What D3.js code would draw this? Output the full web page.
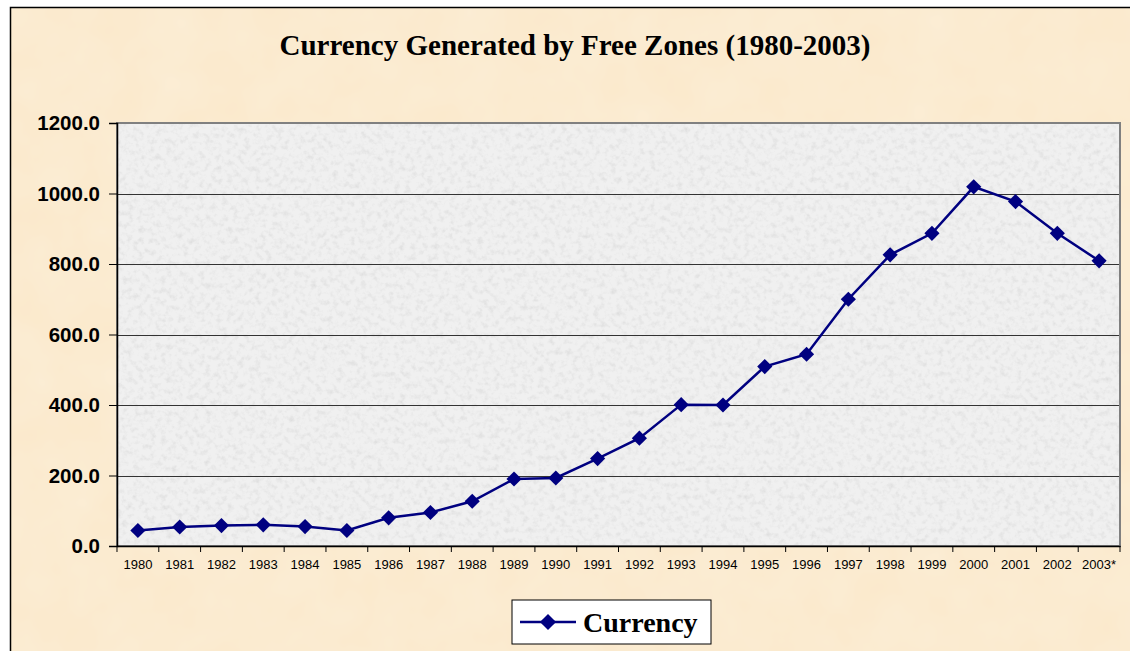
<!DOCTYPE html>
<html><head><meta charset="utf-8">
<script src="https://cdn.jsdelivr.net/npm/d3@7"></script>
<style>html,body{margin:0;padding:0;background:#fff;}svg{display:block;}</style>
</head><body>
<svg id="chart" width="1130" height="651"></svg>
<script>
const years = ["1980","1981","1982","1983","1984","1985","1986","1987","1988","1989","1990","1991","1992","1993","1994","1995","1996","1997","1998","1999","2000","2001","2002","2003*"];
const currency = [44,54,58,60,55,44,80,95,127,190,193,248,306,401,400,509,544,700,826,887,1019,977,887,809];
const yTicks = [0,200,400,600,800,1000,1200];
const titleText = "Currency Generated by Free Zones (1980-2003)";
const seriesName = "Currency";

const svg = d3.select("#chart");
const defs = svg.append("defs");
const f1 = defs.append("filter").attr("id","paper").attr("x",0).attr("y",0).attr("width","100%").attr("height","100%");
f1.append("feTurbulence").attr("type","fractalNoise").attr("baseFrequency",0.02).attr("numOctaves",3).attr("seed",4).attr("result","n");
f1.append("feColorMatrix").attr("in","n").attr("type","matrix")
  .attr("values","0 0 0 0 0.99  0 0 0 0 0.93  0 0 0 0 0.82  0.35 0 0 0 -0.05").attr("result","c");
f1.append("feComposite").attr("in","c").attr("in2","SourceGraphic").attr("operator","over");
const f2 = defs.append("filter").attr("id","granite").attr("x",0).attr("y",0).attr("width","100%").attr("height","100%");
f2.append("feTurbulence").attr("type","fractalNoise").attr("baseFrequency",0.18).attr("numOctaves",3).attr("seed",7).attr("result","n");
f2.append("feColorMatrix").attr("in","n").attr("type","matrix")
  .attr("values","0 0 0 0 0.74  0 0 0 0 0.74  0 0 0 0 0.74  -2.2 0 0 0 1.2").attr("result","c");
f2.append("feComposite").attr("in","c").attr("in2","SourceGraphic").attr("operator","over");

svg.append("rect").attr("x",0).attr("y",0).attr("width",1130).attr("height",651).attr("fill","#ffffff");
svg.append("rect").attr("x",10).attr("y",7).attr("width",1125).attr("height",650).attr("fill","#fbe9cc").attr("filter","url(#paper)");
svg.append("rect").attr("x",10.5).attr("y",7.5).attr("width",1130).attr("height",660).attr("fill","none").attr("stroke","#000").attr("stroke-width",1.5);

const m = {left:117, right:1120, top:123, bottom:546};
const x = d3.scaleBand().domain(years).range([m.left, m.right]);
const y = d3.scaleLinear().domain([0,1200]).range([m.bottom, m.top]);

svg.append("rect").attr("x",m.left).attr("y",m.top).attr("width",m.right-m.left).attr("height",m.bottom-m.top)
  .attr("fill","#f0f0f0").attr("filter","url(#granite)");

svg.append("g").selectAll("line").data(yTicks.filter(d=>d>0&&d<1200)).join("line")
  .attr("x1",m.left).attr("x2",m.right).attr("y1",d=>Math.round(y(d))+0.5).attr("y2",d=>Math.round(y(d))+0.5)
  .attr("stroke","#333").attr("stroke-width",1);

svg.append("rect").attr("x",m.left).attr("y",m.top).attr("width",m.right-m.left).attr("height",m.bottom-m.top)
  .attr("fill","none").attr("stroke","#808080").attr("stroke-width",2);

const yAxis = d3.axisLeft(y).tickValues(yTicks).tickFormat(d3.format(".1f")).tickSize(8).tickPadding(9);
const gy = svg.append("g").attr("transform",`translate(${m.left},0)`).call(yAxis);
gy.select(".domain").attr("stroke","#000").attr("stroke-width",1.5);
gy.selectAll(".tick line").attr("stroke","#000");
gy.selectAll("text").attr("font-family","Liberation Sans, Arial, sans-serif").attr("font-weight","bold").attr("font-size",20.5).attr("fill","#000");

const xAxis = d3.axisBottom(x).tickSizeInner(6).tickSizeOuter(0).tickPadding(8);
const gx = svg.append("g").attr("transform",`translate(0,${m.bottom})`).call(xAxis);
gx.select(".domain").attr("stroke","#000").attr("stroke-width",1.5);
gx.selectAll(".tick line").attr("stroke","#000").attr("transform",`translate(${-x.bandwidth()/2},0)`);
gx.append("line").attr("x1",m.right).attr("x2",m.right).attr("y1",0).attr("y2",6).attr("stroke","#000");
gx.selectAll("text").attr("font-family","Liberation Sans, Arial, sans-serif").attr("font-size",13).attr("fill","#000");

const cx = d => x(d) + x.bandwidth()/2;
const line = d3.line().x((d,i)=>cx(years[i])).y(d=>y(d));
svg.append("path").datum(currency).attr("d",line).attr("fill","none").attr("stroke","#000080").attr("stroke-width",2.5);
svg.append("g").selectAll("path").data(currency).join("path")
  .attr("transform",(d,i)=>`translate(${cx(years[i])},${y(d)}) rotate(45)`)
  .attr("d",d3.symbol().type(d3.symbolSquare).size(115))
  .attr("fill","#000080");

svg.append("text").attr("x",575).attr("y",55).attr("text-anchor","middle")
  .attr("font-family","Liberation Serif, Times New Roman, serif").attr("font-weight","bold").attr("font-size",29)
  .text(titleText);

const lg = svg.append("g");
lg.append("rect").attr("x",512).attr("y",600).attr("width",199).attr("height",44).attr("fill","#fff").attr("stroke","#000").attr("stroke-width",1);
lg.append("line").attr("x1",520).attr("x2",576).attr("y1",622).attr("y2",622).attr("stroke","#000080").attr("stroke-width",2.5);
lg.append("path").attr("transform","translate(548,622) rotate(45)").attr("d",d3.symbol().type(d3.symbolSquare).size(130)).attr("fill","#000080");
lg.append("text").attr("x",583).attr("y",632).attr("font-family","Liberation Serif, Times New Roman, serif").attr("font-weight","bold").attr("font-size",28).text(seriesName);
</script>
</body></html>
